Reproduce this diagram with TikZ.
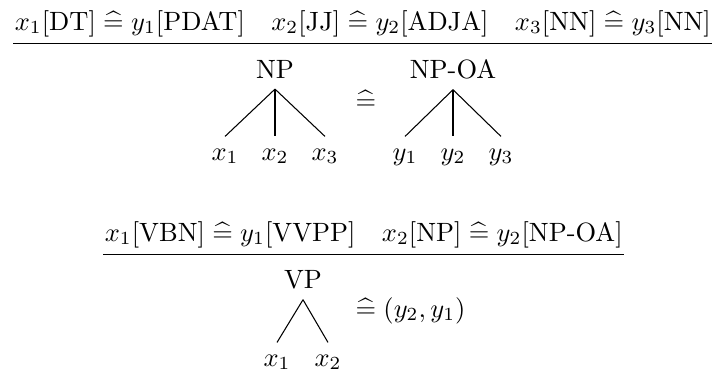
\documentclass[tikz,border=0pt]{standalone}
\usepackage{amsmath}
\newcommand{\corr}{\mathrel{\widehat{=}}}
\newcommand{\cat}[1]{[\text{#1}]}
\begin{document}
\begin{tikzpicture}[x=0.378pt,y=-0.378pt,
    premessa/.style={anchor=base west,inner xsep=0.5pt,inner ysep=2.4pt},
    radice/.style={anchor=base,inner sep=4pt},
    foglia/.style={anchor=base,inner sep=4.4pt}]
    \useasboundingbox (0,0) rectangle (712,370);

    % Prima regola: premesse e linea
    \node[premessa] (prem1) at (13,30)
        {$x_1\cat{DT} \corr y_1\cat{PDAT} \quad x_2\cat{JJ} \corr y_2\cat{ADJA} \quad x_3\cat{NN} \corr y_3\cat{NN}$};
    \draw (prem1.south west) -- (prem1.south east);

    % Albero sinistro NP
    \node[radice] (np) at (275,78) {NP};
    \node[foglia] (x1) at (225,160) {$x_1$};
    \node[foglia] (x2) at (275,160) {$x_2$};
    \node[foglia] (x3) at (325,160) {$x_3$};
    \foreach \f in {x1,x2,x3} \draw (np.south) -- (\f.north);

    % Corrispondenza
    \node (eq1) at (366,100) {$\widehat{=}$};

    % Albero destro NP-OA
    \node[radice] (npoa) at (453,78) {NP-OA};
    \node[foglia] (y1) at (405,160) {$y_1$};
    \node[foglia] (y2) at (453,160) {$y_2$};
    \node[foglia] (y3) at (501,160) {$y_3$};
    \foreach \f in {y1,y2,y3} \draw (npoa.south) -- (\f.north);

    % Seconda regola: premesse e linea
    \node[premessa] (prem2) at (103,241)
        {$x_1\cat{VBN} \corr y_1\cat{VVPP} \quad x_2\cat{NP} \corr y_2\cat{NP-OA}$};
    \draw (prem2.south west) -- (prem2.south east);

    % Albero VP
    \node[radice] (vp) at (303,288) {VP};
    \node[foglia] (vx1) at (277,366) {$x_1$};
    \node[foglia] (vx2) at (328,366) {$x_2$};
    \foreach \f in {vx1,vx2} \draw (vp.south) -- (\f.north);
    \node[anchor=base west,inner sep=0pt] (eq2) at (355,317) {$\widehat{=}\;(y_2,y_1)$};
\end{tikzpicture}
\end{document}
